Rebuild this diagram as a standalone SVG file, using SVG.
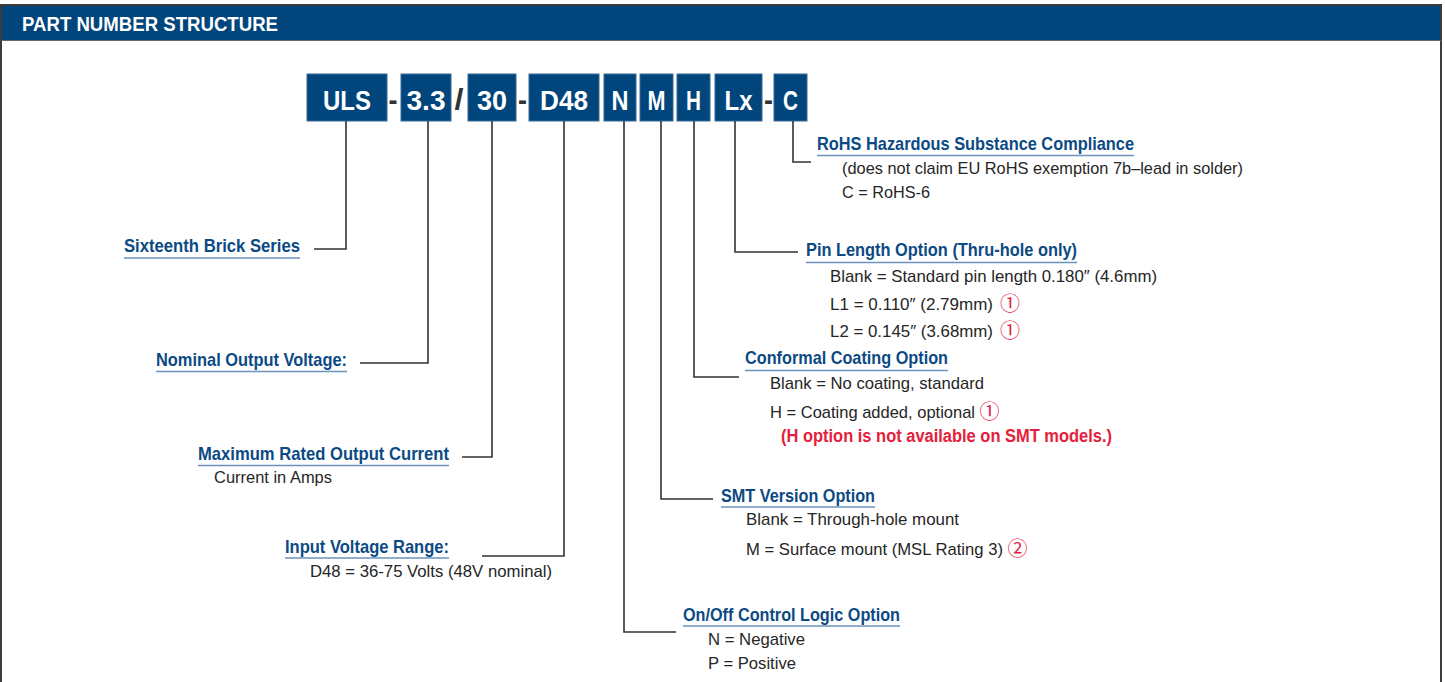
<svg xmlns="http://www.w3.org/2000/svg" width="1445" height="682" viewBox="0 0 1445 682">
<style>
text{font-family:"Liberation Sans",Arial,sans-serif}
.box{fill:#00457c;stroke:#3a6a98;stroke-width:1}
.bt{fill:#fff;font-weight:bold;font-size:28px;text-anchor:middle}
.sep{fill:#333;font-weight:bold;font-size:30px;text-anchor:middle}
.tt{fill:#0c4a84;font-weight:bold;font-size:19px}
.ul{stroke:#6b93bb;stroke-width:1.6}
.bd{fill:#262626;font-size:17px}
.rd{fill:#e4203c;font-weight:bold;font-size:17.5px}
.cn{fill:#e4203c;font-size:20px;font-family:"Noto Sans CJK SC","DejaVu Sans",sans-serif;text-anchor:middle}
.con path{fill:none;stroke:#333;stroke-width:1.6}
</style>
<rect x="0" y="0" width="1445" height="682" fill="#fff"/>
<g id="frame">
<rect x="1" y="5" width="1440" height="35" fill="#00457c"/>
<path d="M1,682 V5 H1441 V682" fill="none" stroke="#3c3c3c" stroke-width="2"/>
<line x1="1" y1="40.5" x2="1441" y2="40.5" stroke="#666" stroke-width="1"/>
<text x="22" y="31" fill="#fff" font-weight="bold" font-size="21" textLength="256" lengthAdjust="spacingAndGlyphs">PART NUMBER STRUCTURE</text>
</g>
<g id="part-number">
<g id="box-uls"><rect class="box" x="307" y="74" width="80" height="47"/><text class="bt" x="347" y="109.5" textLength="48" lengthAdjust="spacingAndGlyphs">ULS</text></g>
<text class="sep" x="393" y="110" textLength="9" lengthAdjust="spacingAndGlyphs">-</text>
<g id="box-33"><rect class="box" x="401" y="74" width="50" height="47"/><text class="bt" x="426" y="109.5" textLength="39" lengthAdjust="spacingAndGlyphs">3.3</text></g>
<text class="sep" x="459" y="109.5" textLength="9" lengthAdjust="spacingAndGlyphs">/</text>
<g id="box-30"><rect class="box" x="468" y="74" width="48" height="47"/><text class="bt" x="492" y="109.5" textLength="30" lengthAdjust="spacingAndGlyphs">30</text></g>
<text class="sep" x="522.5" y="110" textLength="9" lengthAdjust="spacingAndGlyphs">-</text>
<g id="box-d48"><rect class="box" x="529" y="74" width="70" height="47"/><text class="bt" x="564" y="109.5" textLength="48" lengthAdjust="spacingAndGlyphs">D48</text></g>
<g id="box-n"><rect class="box" x="604" y="74" width="32" height="47"/><text class="bt" x="620" y="109.5" textLength="17" lengthAdjust="spacingAndGlyphs">N</text></g>
<g id="box-m"><rect class="box" x="640" y="74" width="33" height="47"/><text class="bt" x="656.5" y="109.5" textLength="18" lengthAdjust="spacingAndGlyphs">M</text></g>
<g id="box-h"><rect class="box" x="677" y="74" width="33" height="47"/><text class="bt" x="693.5" y="109.5" textLength="15" lengthAdjust="spacingAndGlyphs">H</text></g>
<g id="box-lx"><rect class="box" x="715" y="74" width="47" height="47"/><text class="bt" x="738.5" y="109.5" textLength="28" lengthAdjust="spacingAndGlyphs">Lx</text></g>
<text class="sep" x="768.5" y="110" textLength="9" lengthAdjust="spacingAndGlyphs">-</text>
<g id="box-c"><rect class="box" x="774" y="74" width="33" height="47"/><text class="bt" x="790.5" y="109.5" textLength="15" lengthAdjust="spacingAndGlyphs">C</text></g>
</g>
<g id="connectors" class="con">
<path d="M346,121 V249 H314"/>
<path d="M428,121 V363 H360"/>
<path d="M492,121 V457 H462"/>
<path d="M564,121 V556 H482"/>
<path d="M624,121 V632 H676"/>
<path d="M661,121 V499 H713"/>
<path d="M694,121 V377 H739"/>
<path d="M735,121 V252 H798"/>
<path d="M793,121 V162 H811"/>
</g>
<g id="label-series">
<text class="tt" x="124" y="252" textLength="176" lengthAdjust="spacingAndGlyphs">Sixteenth Brick Series</text>
<line class="ul" x1="124" y1="258" x2="300" y2="258"/>
</g>
<g id="label-voltage">
<text class="tt" x="156" y="365.5" textLength="191" lengthAdjust="spacingAndGlyphs">Nominal Output Voltage:</text>
<line class="ul" x1="156" y1="371.5" x2="347" y2="371.5"/>
</g>
<g id="label-current">
<text class="tt" x="198" y="460" textLength="251" lengthAdjust="spacingAndGlyphs">Maximum Rated Output Current</text>
<line class="ul" x1="198" y1="465.5" x2="449" y2="465.5"/>
<text class="bd" x="214" y="483" textLength="118" lengthAdjust="spacingAndGlyphs">Current in Amps</text>
</g>
<g id="label-input">
<text class="tt" x="285" y="553" textLength="164" lengthAdjust="spacingAndGlyphs">Input Voltage Range:</text>
<line class="ul" x1="285" y1="558" x2="449" y2="558"/>
<text class="bd" x="310" y="576.5" textLength="242" lengthAdjust="spacingAndGlyphs">D48 = 36-75 Volts (48V nominal)</text>
</g>
<g id="label-onoff">
<text class="tt" x="683" y="620.5" textLength="217" lengthAdjust="spacingAndGlyphs">On/Off Control Logic Option</text>
<line class="ul" x1="683" y1="626" x2="900" y2="626"/>
<text class="bd" x="708" y="645" textLength="97" lengthAdjust="spacingAndGlyphs">N = Negative</text>
<text class="bd" x="708" y="669" textLength="88" lengthAdjust="spacingAndGlyphs">P = Positive</text>
</g>
<g id="label-smt">
<text class="tt" x="721" y="501.5" textLength="154" lengthAdjust="spacingAndGlyphs">SMT Version Option</text>
<line class="ul" x1="721" y1="507" x2="875" y2="507"/>
<text class="bd" x="746" y="525" textLength="213" lengthAdjust="spacingAndGlyphs">Blank = Through-hole mount</text>
<text class="bd" x="746" y="554.5" textLength="257" lengthAdjust="spacingAndGlyphs">M = Surface mount (MSL Rating 3)</text>
<text class="cn" x="1017.5" y="556">②</text>
</g>
<g id="label-coating">
<text class="tt" x="745" y="364" textLength="203" lengthAdjust="spacingAndGlyphs">Conformal Coating Option</text>
<line class="ul" x1="745" y1="370.5" x2="948" y2="370.5"/>
<text class="bd" x="770" y="388.5" textLength="214" lengthAdjust="spacingAndGlyphs">Blank = No coating, standard</text>
<text class="bd" x="770" y="417.5" textLength="205" lengthAdjust="spacingAndGlyphs">H = Coating added, optional</text>
<text class="cn" x="989.5" y="419">①</text>
<text class="rd" x="781" y="441.5" textLength="331" lengthAdjust="spacingAndGlyphs">(H option is not available on SMT models.)</text>
</g>
<g id="label-pin">
<text class="tt" x="806" y="256" textLength="271" lengthAdjust="spacingAndGlyphs">Pin Length Option (Thru-hole only)</text>
<line class="ul" x1="806" y1="262.5" x2="1077" y2="262.5"/>
<text class="bd" x="830" y="281.5" textLength="327" lengthAdjust="spacingAndGlyphs">Blank = Standard pin length 0.180″ (4.6mm)</text>
<text class="bd" x="830" y="309.5" textLength="163" lengthAdjust="spacingAndGlyphs">L1 = 0.110″ (2.79mm)</text>
<text class="cn" x="1010" y="311">①</text>
<text class="bd" x="830" y="336.5" textLength="163" lengthAdjust="spacingAndGlyphs">L2 = 0.145″ (3.68mm)</text>
<text class="cn" x="1010" y="338">①</text>
</g>
<g id="label-rohs">
<text class="tt" x="817" y="149.5" textLength="317" lengthAdjust="spacingAndGlyphs">RoHS Hazardous Substance Compliance</text>
<line class="ul" x1="817" y1="155.5" x2="1134" y2="155.5"/>
<text class="bd" x="842" y="174" textLength="401" lengthAdjust="spacingAndGlyphs">(does not claim EU RoHS exemption 7b–lead in solder)</text>
<text class="bd" x="842" y="197.5" textLength="88" lengthAdjust="spacingAndGlyphs">C = RoHS-6</text>
</g>
</svg>
